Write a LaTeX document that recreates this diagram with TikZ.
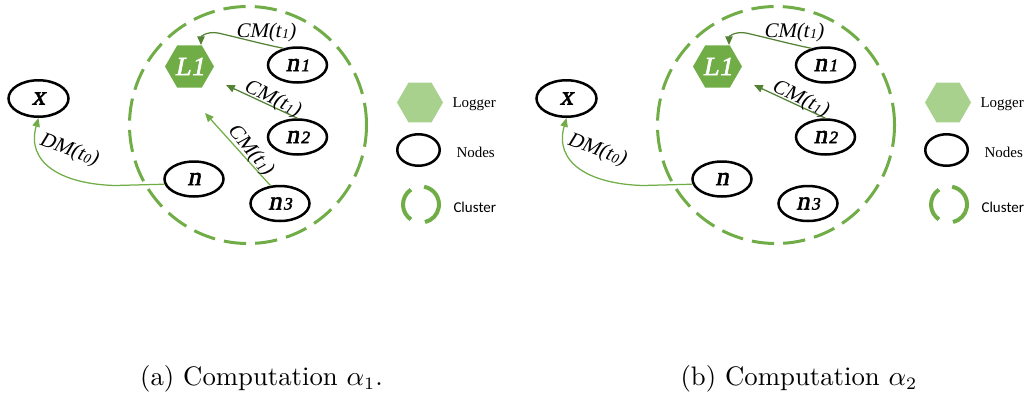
\documentclass[tikz,border=0pt]{standalone}
\usepackage{fontspec}
\usetikzlibrary{shapes.geometric,arrows.meta,calc}
\setmainfont{Liberation Serif}
\newfontfamily\lmr{Latin Modern Roman}
\newfontfamily\carl{Carlito}
\newfontfamily\tnrit{Liberation Serif}[FakeSlant=0.2]
\newfontfamily\tnrbi{Liberation Serif}[FakeSlant=0.2, FakeBold=2.2]
\definecolor{grn}{HTML}{70AD47}
\definecolor{dgrn}{HTML}{548235}
\definecolor{lgrn}{HTML}{A9D18E}
\newcommand\dg[1]{\kern0.6pt{\fontsize{7}{7}\selectfont #1}}
\newcommand\sdg[1]{\kern0.3pt\raisebox{-0.6pt}{\fontsize{5.5}{5.5}\selectfont #1}}
\tikzset{
 nd/.style={ellipse, draw=black, line width=1pt, minimum width=23.6pt, minimum height=14pt, inner sep=0pt, font=\tnrbi\fontsize{10.5}{10.5}\selectfont},
 logger/.style={regular polygon, regular polygon sides=6, fill=grn, minimum size=19.6pt, inner sep=0pt, text=white, font=\tnrbi\fontsize{10.5}{10.5}\selectfont},
 cluster/.style={draw=grn, line width=1.2pt, dash pattern=on 8.9pt off 3.67pt},
 msg/.style={line width=0.5pt, -{Triangle[length=3.5pt,width=3pt]}},
 lbl/.style={font=\tnrit\fontsize{8.3}{8.3}\selectfont, inner sep=0pt},
 leg/.style={anchor=west, inner sep=0pt},
 legarc/.style={draw=grn, line width=1.6pt},
 captext/.style={font=\lmr\fontsize{10.7}{13}\selectfont},
}
\begin{document}
\begin{tikzpicture}[x=0.4pt,y=-0.4pt]
\useasboundingbox (0,0) rectangle (1035,401);
% ---------- panel (a)
\draw[cluster] (248,125) circle[radius=47.4pt];
\node[nd, minimum width=24pt, minimum height=14.6pt] (ax) at (38.5,98.5) {x};
\node[logger] (aL) at (189.5,66.5) {L1};
\node[nd] (an1) at (297.5,65) {n\dg{1}};
\node[nd] (an2) at (297.5,137) {n\dg{2}};
\node[nd] (an) at (194,179) {n};
\node[nd] (an3) at (280,203.5) {n\dg{3}};
\coordinate (at1) at (201,45);
\coordinate (at2) at (226,85);
\coordinate (at3) at (205,113);
\draw[msg, dgrn] (an1.130) .. controls (262,44) and (240,38) .. (218,33) .. controls (206,31) and (201,37) .. (at1);
\draw[msg, dgrn] (an2.north) -- (at2);
\draw[msg, grn] (an3.118) -- (at3);
\draw[msg, grn] (an.190) -- (115,185.5) .. controls (60,184) and (26,162) .. (ax.south);
\node[lbl] (alab1) at (265.5,32.5) {CM(t\sdg{1})};
\node[lbl, rotate=-25] (alab2) at (272,99) {CM(t\sdg{1})};
\node[lbl, rotate=-50] (alab3) at (250,150) {CM(t\sdg{1})};
\node[lbl, rotate=-20] (alab4) at (68.5,150) {DM(t\sdg{0})};
% legend (a)
\node[logger, fill=lgrn, minimum size=18.4pt] (alg) at (420,102.5) {};
\node[nd, minimum width=17pt, minimum height=12.6pt] (aln) at (418.5,150) {};
\coordinate (alc) at (421,204.5);
\draw[legarc] (alc) ++(124:7.2pt) arc[start angle=124,end angle=236,radius=7.2pt];
\draw[legarc] (alc) ++(80:7.2pt) arc[start angle=80,end angle=-77,radius=7.2pt];
\node[leg, font=\rmfamily\fontsize{6}{6}\selectfont] (altx1) at (452,104) {Logger};
\node[leg, font=\rmfamily\fontsize{6}{6}\selectfont] (altx2) at (456,152.5) {Nodes};
\node[leg, font=\carl\fontsize{6}{6}\selectfont] (altx3) at (453,207.5) {Cluster};
% ---------- panel (b)
\begin{scope}[xshift=211.2pt]
\draw[cluster] (248,125) circle[radius=47.4pt];
\node[nd, minimum width=24pt, minimum height=14.6pt] (bx) at (38.5,98.5) {x};
\node[logger] (bL) at (189.5,66.5) {L1};
\node[nd] (bn1) at (297.5,65) {n\dg{1}};
\node[nd] (bn2) at (297.5,137) {n\dg{2}};
\node[nd] (bn) at (194,179) {n};
\node[nd] (bn3) at (280,203.5) {n\dg{3}};
\coordinate (bt1) at (201,45);
\coordinate (bt2) at (226,85);
\draw[msg, dgrn] (bn1.130) .. controls (262,44) and (240,38) .. (218,33) .. controls (206,31) and (201,37) .. (bt1);
\draw[msg, dgrn] (bn2.north) -- (bt2);
\draw[msg, grn] (bn.190) -- (115,185.5) .. controls (60,184) and (26,162) .. (bx.south);
\node[lbl] (blab1) at (265.5,32.5) {CM(t\sdg{1})};
\node[lbl, rotate=-25] (blab2) at (272,99) {CM(t\sdg{1})};
\node[lbl, rotate=-20] (blab4) at (68.5,150) {DM(t\sdg{0})};
\node[logger, fill=lgrn, minimum size=18.4pt] (blg) at (420,102.5) {};
\node[nd, minimum width=17pt, minimum height=12.6pt] (bln) at (418.5,150) {};
\coordinate (blc) at (421,204.5);
\draw[legarc] (blc) ++(124:7.2pt) arc[start angle=124,end angle=236,radius=7.2pt];
\draw[legarc] (blc) ++(80:7.2pt) arc[start angle=80,end angle=-77,radius=7.2pt];
\node[leg, font=\rmfamily\fontsize{6}{6}\selectfont] (bltx1) at (452,104) {Logger};
\node[leg, font=\rmfamily\fontsize{6}{6}\selectfont] (bltx2) at (456,152.5) {Nodes};
\node[leg, font=\carl\fontsize{6}{6}\selectfont] (bltx3) at (453,207.5) {Cluster};
\end{scope}
% captions
\node[captext] (capa) at (261.5,379) {(a) Computation $\alpha_1$.};
\node[captext] (capb) at (799,379) {(b) Computation $\alpha_2$};
\end{tikzpicture}
\end{document}
